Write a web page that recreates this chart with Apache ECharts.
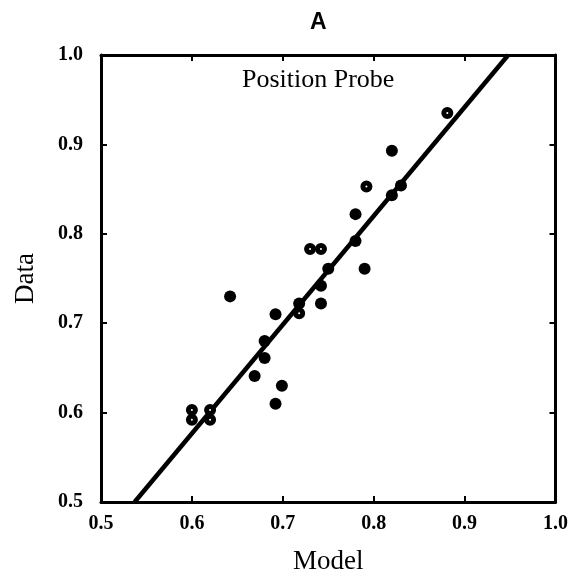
<!DOCTYPE html>
<html><head><meta charset="utf-8">
<script src="https://cdn.jsdelivr.net/npm/echarts@6/dist/echarts.min.js"></script>
<style>html,body{margin:0;padding:0;background:#fff}#c{width:571px;height:580px}</style>
</head><body><div id="c"></div>
<script>
// Filled data points [model, data]
const modelSolid = [0.82, 0.83, 0.82, 0.78, 0.78, 0.75, 0.79, 0.742, 0.742, 0.718, 0.642, 0.692, 0.68, 0.68, 0.669, 0.699, 0.692];
const dataSolid  = [0.893, 0.854, 0.843, 0.822, 0.792, 0.761, 0.761, 0.742, 0.722, 0.722, 0.730, 0.710, 0.680, 0.661, 0.641, 0.630, 0.610];
// Points drawn with a small open centre
const modelRing = [0.881, 0.792, 0.730, 0.742, 0.718, 0.60, 0.60, 0.62, 0.62];
const dataRing  = [0.935, 0.853, 0.783, 0.783, 0.711, 0.603, 0.592, 0.603, 0.592];
// Fitted line endpoints
const fitModel = [0.537, 0.948];
const fitData  = [0.50, 1.00];
const xTicks = [0.5, 0.6, 0.7, 0.8, 0.9, 1.0];
const yTicks = [0.5, 0.6, 0.7, 0.8, 0.9, 1.0];

const zip = (a, b) => a.map((v, i) => [v, b[i]]);
const serif = '"Liberation Serif", "DejaVu Serif", serif';
const chart = echarts.init(document.getElementById('c'));
const lbl = {color: '#000', fontFamily: serif, fontSize: 20, fontWeight: 'bold', formatter: v => v.toFixed(1)};
const axLine = {show: true, lineStyle: {color: '#000', width: 3}};
const tick = {show: true, inside: true, length: 6, lineStyle: {color: '#000', width: 2}};
chart.setOption({
  animation: false,
  title: [
    {text: 'A', left: 305, top: 6, textStyle: {fontFamily: '"Liberation Sans", Arial, sans-serif', fontSize: 23, fontWeight: 'bold', color: '#000'}},
    {text: 'Position Probe', left: 237, top: 62, textStyle: {fontFamily: serif, fontSize: 26, fontWeight: 'normal', color: '#000'}}
  ],
  grid: {left: 101, right: 14, top: 55, bottom: 78},
  xAxis: [
    {type: 'value', min: 0.5, max: 1.0, interval: 0.1, name: 'Model', nameLocation: 'middle', nameGap: 46,
     nameTextStyle: {fontFamily: serif, fontSize: 27, color: '#000'},
     axisLine: axLine, axisTick: tick, splitLine: {show: false}, axisLabel: Object.assign({margin: 12}, lbl)},
    {type: 'value', position: 'top', min: 0.5, max: 1.0, interval: 0.1,
     axisLine: axLine, axisTick: tick, splitLine: {show: false}, axisLabel: {show: false}}
  ],
  yAxis: [
    {type: 'value', min: 0.5, max: 1.0, interval: 0.1, name: 'Data', nameLocation: 'middle', nameGap: 62,
     nameTextStyle: {fontFamily: serif, fontSize: 27, color: '#000'},
     axisLine: axLine, axisTick: tick, splitLine: {show: false}, axisLabel: Object.assign({margin: 18}, lbl)},
    {type: 'value', position: 'right', min: 0.5, max: 1.0, interval: 0.1,
     axisLine: axLine, axisTick: tick, splitLine: {show: false}, axisLabel: {show: false}}
  ],
  series: [
    {type: 'line', data: zip(fitModel, fitData), symbol: 'none', lineStyle: {color: '#000', width: 4.5}, z: 2},
    {type: 'scatter', data: zip(modelSolid, dataSolid), symbol: 'circle', symbolSize: 12, itemStyle: {color: '#000', opacity: 1}, z: 3},
    {type: 'scatter', data: zip(modelRing, dataRing), symbol: 'circle', symbolSize: 7,
     itemStyle: {color: '#fff', borderColor: '#000', borderWidth: 5, opacity: 1}, z: 4}
  ]
});
</script></body></html>
